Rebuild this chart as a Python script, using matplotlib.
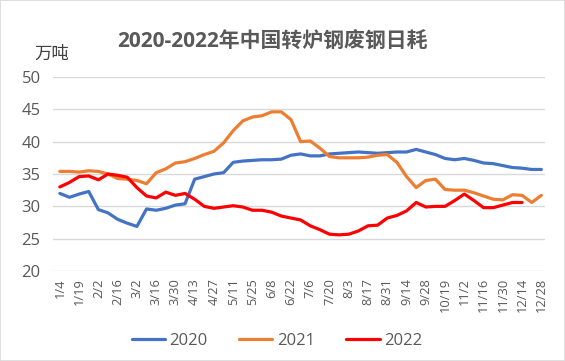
import matplotlib
matplotlib.use("Agg")
import matplotlib.pyplot as plt
from matplotlib.patches import Rectangle

plt.rcParams['font.family'] = ['Open Sans', 'Noto Sans CJK SC', 'DejaVu Sans']

tick_labels = ["1/4", "1/19", "2/2", "2/16", "3/2", "3/16", "3/30", "4/13", "4/27",
               "5/11", "5/25", "6/8", "6/22", "7/6", "7/20", "8/3", "8/17", "8/31",
               "9/14", "9/28", "10/19", "11/2", "11/16", "11/30", "12/14", "12/28"]

s2020 = [32.0, 31.4, 31.9, 32.3, 29.5, 29.0, 28.0, 27.4, 26.9, 29.6,
         29.4, 29.7, 30.2, 30.4, 34.2, 34.6, 35.0, 35.2, 36.8, 37.0,
         37.1, 37.2, 37.2, 37.3, 37.9, 38.1, 37.8, 37.8, 38.1, 38.2,
         38.3, 38.4, 38.3, 38.2, 38.3, 38.4, 38.4, 38.8, 38.4, 38.0,
         37.4, 37.2, 37.4, 37.1, 36.7, 36.6, 36.3, 36.0, 35.9, 35.7, 35.7]

s2021 = [35.4, 35.4, 35.3, 35.5, 35.4, 35.0, 34.3, 34.2, 34.0, 33.5,
         35.2, 35.8, 36.7, 36.9, 37.4, 38.0, 38.5, 39.8, 41.7, 43.2,
         43.8, 44.0, 44.6, 44.6, 43.4, 40.0, 40.1, 39.0, 37.7, 37.5,
         37.5, 37.5, 37.6, 37.9, 38.0, 36.8, 34.6, 32.9, 34.0, 34.2,
         32.6, 32.5, 32.5, 32.1, 31.6, 31.1, 31.0, 31.8, 31.7, 30.6, 31.7]

s2022 = [33.0, 33.7, 34.6, 34.7, 34.1, 35.0, 34.8, 34.5, 32.9, 31.6,
         31.3, 32.2, 31.7, 32.0, 31.1, 30.0, 29.7, 29.9, 30.1, 29.9,
         29.4, 29.4, 29.1, 28.5, 28.2, 27.9, 27.0, 26.4, 25.7, 25.6,
         25.7, 26.2, 27.0, 27.1, 28.2, 28.6, 29.3, 30.6, 29.9, 30.0,
         30.0, 30.9, 31.9, 30.9, 29.8, 29.8, 30.2, 30.6, 30.6]

series_names = ["2020", "2021", "2022"]
colors = ["#4472C4", "#ED7D31", "#FF0000"]
text_color = "#595959"

fig = plt.figure(figsize=(5.65, 3.61), dpi=100)
fig.patches.append(Rectangle((0, 0), 1, 1, transform=fig.transFigure,
                             fill=False, edgecolor="#D9D9D9", linewidth=1.2))
ax = fig.add_axes([0.094, 0.249, 0.871, 0.538])

for name, data, c in zip(series_names, [s2020, s2021, s2022], colors):
    ax.plot(range(len(data)), data, color=c, linewidth=2.3, label=name,
            solid_capstyle='round', solid_joinstyle='round')

ax.set_ylim(20, 50)
ax.set_yticks(range(20, 51, 5))
ax.set_xlim(-0.7, 50.4)
ax.set_xticks(range(0, 51, 2))
ax.set_xticklabels(tick_labels, rotation=90, fontsize=9.3, color=text_color)
ax.tick_params(axis='y', labelsize=12, labelcolor=text_color, length=0, pad=9)
ax.tick_params(axis='x', length=0, pad=5)
ax.grid(axis='y', color="#D9D9D9", linewidth=1)
ax.set_axisbelow(True)
for sp in ax.spines.values():
    sp.set_visible(False)

fig.text(0.483, 0.884, "2020-2022年中国转炉钢废钢日耗", ha='center', va='center',
         fontsize=15, fontweight='bold', color=text_color)
fig.text(0.092, 0.848, "万吨", ha='center', va='center', fontsize=12.5, color="#404040")

fig.legend(loc='center', bbox_to_anchor=(0.49, 0.055), ncol=3, frameon=False,
           fontsize=12, labelcolor=text_color, handlelength=2.0, columnspacing=1.9,
           handletextpad=0.25)

fig.savefig("out.png", dpi=100)
